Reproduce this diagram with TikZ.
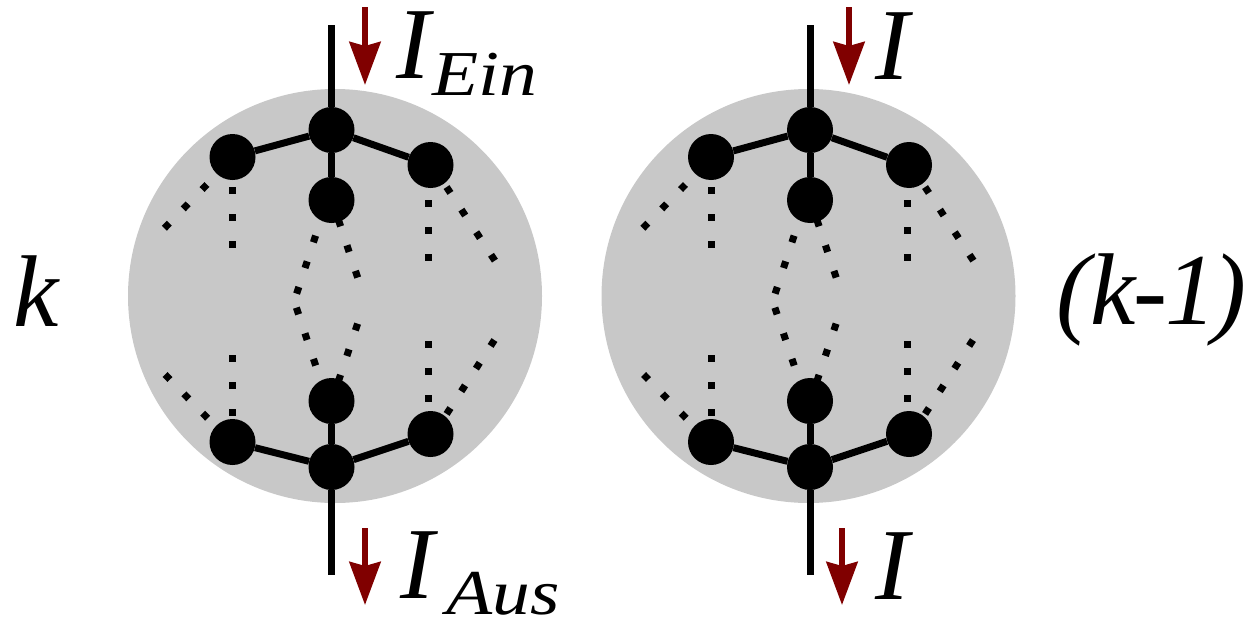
\documentclass[tikz,border=0pt]{standalone}
\usepackage{fontspec}
\setmainfont{Liberation Serif}
\newfontfamily\lsi{Liberation Serif Italic}
\usetikzlibrary{arrows.meta}
\definecolor{discgray}{HTML}{C8C8C8}
\definecolor{arrred}{HTML}{800000}
\tikzset{
  vertex/.style={circle, fill=black, minimum size=46pt, inner sep=0pt},
  edge/.style={line width=7pt},
  dotline/.style={line width=7pt, line cap=rect, dash pattern=on 0.01pt off 26.99pt, shorten >=-4pt},
  currarrow/.style={draw=arrred, line width=6pt, -{Stealth[length=43pt,width=31pt,inset=4pt,fill=arrred]}},
  lbl/.style={font=\lsi\fontsize{102}{102}\selectfont, inner sep=0pt, anchor=base west},
}
\newcommand\subtxt[1]{\scalebox{1.18}[1]{\fontsize{64}{64}\selectfont #1}}
\newcommand\drawmotif[3]{%
\begin{scope}[shift={(#2,0)}, name prefix=#1-]
  \fill[discgray] (#3,296) circle[radius=207];
  \node[vertex] (t)  at (0,130) {};
  \node[vertex] (ul) at (-99,157) {};
  \node[vertex] (ur) at (99,165) {};
  \node[vertex] (s)  at (0,200) {};
  \node[vertex] (l)  at (0,401) {};
  \node[vertex] (ll) at (-99,442) {};
  \node[vertex] (lr) at (99,434) {};
  \node[vertex] (b)  at (0,467) {};
  \coordinate (in)  at (0,25);
  \coordinate (out) at (0,575);
  \draw[edge] (in) -- (t) -- (s);
  \draw[edge] (ul) -- (t) -- (ur);
  \draw[edge] (l) -- (b) -- (out);
  \draw[edge] (ll) -- (b) -- (lr);
  % dotted continuations
  \coordinate (d1a) at (-99,190);  \coordinate (d1b) at (-99,244);
  \coordinate (d2a) at (-127,187); \coordinate (d2b) at (-164,225);
  \coordinate (d3a) at (97,203);   \coordinate (d3b) at (97,257);
  \coordinate (d4a) at (117,190);  \coordinate (d4b) at (161,257);
  \coordinate (d5a) at (-17,239);  \coordinate (d5b) at (-34,291);
  \coordinate (d6a) at (-34,311);  \coordinate (d6b) at (-17,362);
  \coordinate (d7a) at (8,223);    \coordinate (d7b) at (25,274);
  \coordinate (d8a) at (25,327);   \coordinate (d8b) at (8,378);
  \coordinate (d9a) at (-99,358);  \coordinate (d9b) at (-99,412);
  \coordinate (d10a) at (-164,377); \coordinate (d10b) at (-127,415);
  \coordinate (d11a) at (97,344);  \coordinate (d11b) at (97,398);
  \coordinate (d12a) at (117,411); \coordinate (d12b) at (161,343);
  \foreach \i in {1,...,12} {\draw[dotline] (d\i a) -- (d\i b);}
\end{scope}}
\begin{document}
\begin{tikzpicture}[x=1pt,y=-1pt]
  \useasboundingbox (0,0) rectangle (1247,621);
  \drawmotif{L}{331.5}{3.5}
  \drawmotif{R}{810}{-1.5}
  % current arrows
  \coordinate (a1s) at (365,7);   \coordinate (a1e) at (365,85);
  \coordinate (a2s) at (365,528); \coordinate (a2e) at (365,605);
  \coordinate (a3s) at (849,7);   \coordinate (a3e) at (849,85);
  \coordinate (a4s) at (842,528); \coordinate (a4e) at (842,605);
  \draw[currarrow] (a1s) -- (a1e);
  \draw[currarrow] (a2s) -- (a2e);
  \draw[currarrow] (a3s) -- (a3e);
  \draw[currarrow] (a4s) -- (a4e);
  % labels
  \node[lbl] (lein) at (396,78) {I\hspace{2pt}\raisebox{-17pt}{\subtxt{Ein}}};
  \node[lbl] (laus) at (400,598) {I\hspace{12pt}\raisebox{-16pt}{\subtxt{Aus}}};
  \node[lbl] (rin)  at (875,79) {I};
  \node[lbl] (rout) at (875,599) {I};
  \node[lbl] (kl)   at (13,326) {k};
  \node[lbl] (kr)   at (1056,324) {(k\kern-2pt-\kern-2pt1\kern-4pt)};
\end{tikzpicture}
\end{document}
